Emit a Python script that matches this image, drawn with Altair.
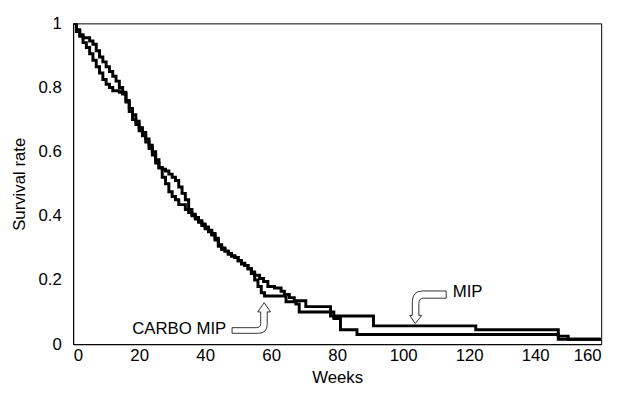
import altair as alt
import pandas as pd

# Kaplan-Meier step curves
mip_weeks = [0, 1, 2, 3, 5, 6, 7, 8, 9, 10, 11, 12, 13, 14, 15, 16, 17, 18, 19, 20,
             21, 22, 23, 24, 25, 26, 27, 28, 29, 30, 31, 32, 34, 35, 36, 37, 38, 39, 40, 41,
             42, 43, 44, 45, 46, 47, 48, 49, 50, 51, 52, 53, 54, 55, 56.5, 57.7, 59, 61, 63, 64,
             65.5, 67, 70.5, 78, 91, 122, 147, 150, 160]
mip_surv = [1.0, 0.98, 0.965, 0.955, 0.945, 0.935, 0.915, 0.895, 0.88, 0.865,
            0.85, 0.835, 0.82, 0.80, 0.785, 0.76, 0.735, 0.715, 0.695, 0.675,
            0.66, 0.64, 0.62, 0.60, 0.575, 0.55, 0.52, 0.50, 0.475, 0.46,
            0.45, 0.435, 0.42, 0.41, 0.40, 0.39, 0.38, 0.37, 0.36, 0.35,
            0.34, 0.325, 0.305, 0.295, 0.29, 0.28, 0.275, 0.27, 0.26, 0.25,
            0.245, 0.235, 0.225, 0.215, 0.205, 0.195, 0.18, 0.175, 0.165, 0.155,
            0.145, 0.135, 0.117, 0.088, 0.057, 0.045, 0.025, 0.015, 0.015]

carbo_weeks = [0, 1, 2, 3, 4, 5, 6, 7, 8, 9, 10, 11, 12,
               14, 15, 16, 17, 18, 19, 20, 21, 22, 23, 24, 25, 26, 27, 28, 29, 30, 31, 32, 33,
               34, 35, 36, 37, 38, 39, 40, 41, 42, 43, 44, 45, 46, 47, 48, 49, 50, 51, 52, 53,
               54, 55, 56, 57, 58, 64.5, 67.5, 68.5, 79, 81, 86, 147, 160]
carbo_surv = [1.0, 0.975, 0.96, 0.94, 0.925, 0.905, 0.885, 0.865, 0.845, 0.825, 0.81, 0.80, 0.79,
              0.785, 0.78, 0.755, 0.725, 0.70, 0.685, 0.665, 0.65, 0.63, 0.61,
              0.59, 0.565, 0.55, 0.545, 0.54, 0.53, 0.52, 0.51, 0.49, 0.47,
              0.45, 0.42, 0.405, 0.395, 0.385, 0.375, 0.365, 0.355, 0.345, 0.33,
              0.31, 0.30, 0.29, 0.283, 0.275, 0.27, 0.26, 0.252, 0.245, 0.235,
              0.22, 0.20, 0.18, 0.16, 0.15, 0.132, 0.125, 0.10, 0.08, 0.045, 0.03, 0.015, 0.015]

x_ticks = [0, 20, 40, 60, 80, 100, 120, 140, 160]
y_ticks = [0, 0.2, 0.4, 0.6, 0.8, 1]

# annotations: label text, label anchor, arrow anchor (data units)
mip_label = {"text": "MIP", "w": 115, "s": 0.163}
mip_arrow = {"w": 107.5, "s": 0.115}
carbo_label = {"text": "CARBO MIP", "w": 46.4, "s": 0.046}
carbo_arrow = {"w": 53.9, "s": 0.0815}

FONT = "Liberation Sans"

curves = pd.concat([
    pd.DataFrame({"weeks": mip_weeks, "surv": mip_surv, "group": "MIP"}),
    pd.DataFrame({"weeks": carbo_weeks, "surv": carbo_surv, "group": "CARBO MIP"}),
])

xs = alt.Scale(domain=[0, 160], nice=False)
ys = alt.Scale(domain=[0, 1], nice=False)

lines = alt.Chart(curves).mark_line(
    interpolate="step-after", color="black", strokeWidth=3, clip=True
).encode(
    x=alt.X("weeks:Q", scale=xs, title="Weeks",
            axis=alt.Axis(values=x_ticks, ticks=False, tickSize=0, grid=False,
                          labelPadding=4, titlePadding=6)),
    y=alt.Y("surv:Q", scale=ys, title="Survival rate",
            axis=alt.Axis(values=y_ticks, format="~g", ticks=False, tickSize=0, grid=False,
                          labelPadding=12, titlePadding=10)),
    detail="group:N",
)

MIP_PATH = ("M 1 -0.892 L -0.297 -0.892 Q -0.854 -0.892 -0.854 -0.297 L -0.854 0.443 "
            "L -1 0.443 L -0.692 0.892 L -0.335 0.443 L -0.497 0.443 L -0.497 -0.189 "
            "Q -0.497 -0.497 -0.243 -0.497 L 1 -0.497 Z")
CARBO_PATH = ("M -1 0.51 L 0.276 0.51 Q 0.51 0.51 0.51 0.286 L 0.51 -0.323 L 0.354 -0.323 "
              "L 0.693 -0.807 L 1.031 -0.323 L 0.854 -0.323 L 0.854 0.339 "
              "Q 0.854 0.807 0.38 0.807 L -1 0.807 Z")

arrow1 = alt.Chart(pd.DataFrame([mip_arrow])).mark_point(
    shape=MIP_PATH, size=1369, fill="white", stroke="#333333", strokeWidth=1,
    opacity=1, filled=False, fillOpacity=1
).encode(x=alt.X("w:Q", scale=xs), y=alt.Y("s:Q", scale=ys))

arrow2 = alt.Chart(pd.DataFrame([carbo_arrow])).mark_point(
    shape=CARBO_PATH, size=1475, fill="white", stroke="#333333", strokeWidth=1,
    opacity=1, filled=False, fillOpacity=1
).encode(x=alt.X("w:Q", scale=xs), y=alt.Y("s:Q", scale=ys))

text1 = alt.Chart(pd.DataFrame([mip_label])).mark_text(
    align="left", baseline="middle", font=FONT, fontSize=17, color="black"
).encode(x=alt.X("w:Q", scale=xs), y=alt.Y("s:Q", scale=ys), text="text:N")

text2 = alt.Chart(pd.DataFrame([carbo_label])).mark_text(
    align="right", baseline="middle", font=FONT, fontSize=17, color="black"
).encode(x=alt.X("w:Q", scale=xs), y=alt.Y("s:Q", scale=ys), text="text:N")

chart = alt.layer(lines, arrow1, arrow2, text1, text2).properties(
    width=535, height=325,
    autosize=alt.AutoSizeParams(type="none"),
    padding={"left": 66, "top": 13, "right": 14, "bottom": 54},
    background="white",
).configure_view(
    stroke="black", strokeWidth=1
).configure_axis(
    domainColor="black", domainWidth=1,
    labelFont=FONT, labelFontSize=17, labelColor="black",
    titleFont=FONT, titleFontSize=17, titleColor="black", titleFontWeight="normal",
)

chart.save("out.html", embed_options={"renderer": "svg", "actions": False})
